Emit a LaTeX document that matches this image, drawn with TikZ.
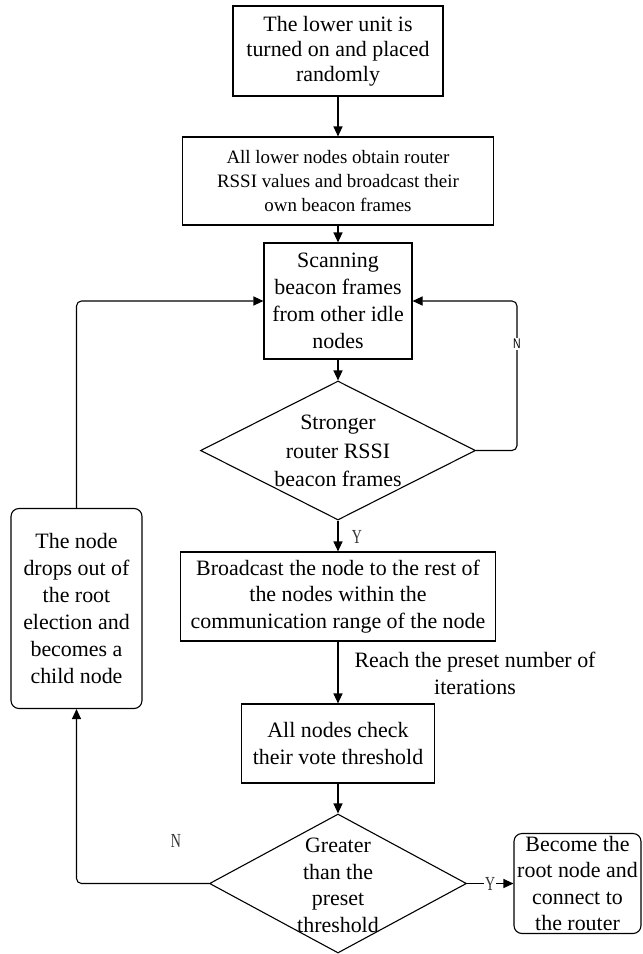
\documentclass[tikz,border=0pt]{standalone}
\usepackage{fontspec}
\setmainfont{Liberation Serif}
\newfontfamily\tagserif{Liberation Serif}[FakeStretch=0.7]
\newfontfamily\tagsans{Liberation Sans}[FakeStretch=0.75]
\usetikzlibrary{arrows.meta,shapes.geometric}

\begin{document}
\begin{tikzpicture}[x=1bp,y=-1bp,
  line width=1.1bp,
  >={Triangle[length=10bp,width=9bp]},
  body/.style={font=\fontsize{22}{26.5}\selectfont},
  proc/.style={draw, rectangle, align=center, inner sep=0pt, body},
  term/.style={proc, rounded corners=8bp},
  decision/.style={draw, diamond, inner sep=0pt},
  dtext/.style={align=center, inner sep=0pt, body},
  flow/.style={->},
  loop/.style={->, rounded corners=5bp},
  yntag/.style={inner sep=1bp, text=black!80, font={\fontsize{20}{20}\tagserif}},
  yntagsans/.style={inner sep=1bp, fill=white, font={\fontsize{14}{14}\tagsans}}
]
\useasboundingbox (0,0) rectangle (643,954);

% main column
\node[proc, minimum width=210bp, minimum height=90bp,
      font=\fontsize{22}{25}\selectfont] (n1) at (338,51)
  {The lower unit is\\turned on and placed\\randomly};
\node[proc, minimum width=311bp, minimum height=88bp,
      font=\fontsize{19}{24}\selectfont] (n2) at (338,181)
  {All lower nodes obtain router\\RSSI values and broadcast their\\own beacon frames};
\node[proc, minimum width=148bp, minimum height=116bp,
      font=\fontsize{22}{27}\selectfont] (n3) at (338,301)
  {Scanning\\beacon frames\\from other idle\\nodes};
\node[decision, minimum width=275bp, minimum height=139bp] (d1) at (338,450.5) {};
\node[dtext, font=\fontsize{22}{28.5}\selectfont] (d1t) at (338,451)
  {Stronger\\router RSSI\\beacon frames};
\node[proc, minimum width=315bp, minimum height=89bp] (n4) at (338,596.5)
  {Broadcast the node to the rest of\\the nodes within the\\communication range of the node};
\node[proc, minimum width=193bp, minimum height=79bp] (n5) at (338,743.5)
  {All nodes check\\their vote threshold};
\node[decision, minimum width=257bp, minimum height=139bp] (d2) at (338,883.5) {};
\node[dtext, font=\fontsize{22}{26.7}\selectfont] (d2t) at (338,885.5)
  {Greater\\than the\\preset\\threshold};

% side boxes
\node[term, minimum width=127bp, minimum height=100bp] (n6) at (577.5,883.5)
  {Become the\\root node and\\connect to\\the router};
\node[term, minimum width=131bp, minimum height=200bp,
      font=\fontsize{22}{27}\selectfont] (n7) at (76.5,608.5)
  {The node\\drops out of\\the root\\election and\\becomes a\\child node};

% connectors
\coordinate (rloop) at (517,301);
\draw[flow] (n1) -- (n2);
\draw[flow] (n2) -- (n3);
\draw[flow] (n3) -- (d1);
\draw[flow] (d1) -- (n4);
\draw[flow] (n4) -- (n5);
\draw[flow] (n5) -- (d2);
\draw[flow] (d2.east) -- node[yntag, fill=white] (ylab2) {Y} (n6.west);
\draw[loop] (d1.east) -| (rloop) -- (n3.east);
\draw[loop] (d2.west) -| (n7.south);
\draw[loop] (n7.north) |- (n3.west);

% branch labels
\node[yntagsans] (nlab1) at (517,344) {N};
\node[yntag] (ylab1) at (357,537) {Y};
\node[yntag] (nlab2) at (176,841) {N};
\node[body, align=center, inner sep=0pt, font=\fontsize{22}{27}\selectfont] (iter) at (475,673.5)
  {Reach the preset number of\\iterations};
\end{tikzpicture}
\end{document}
